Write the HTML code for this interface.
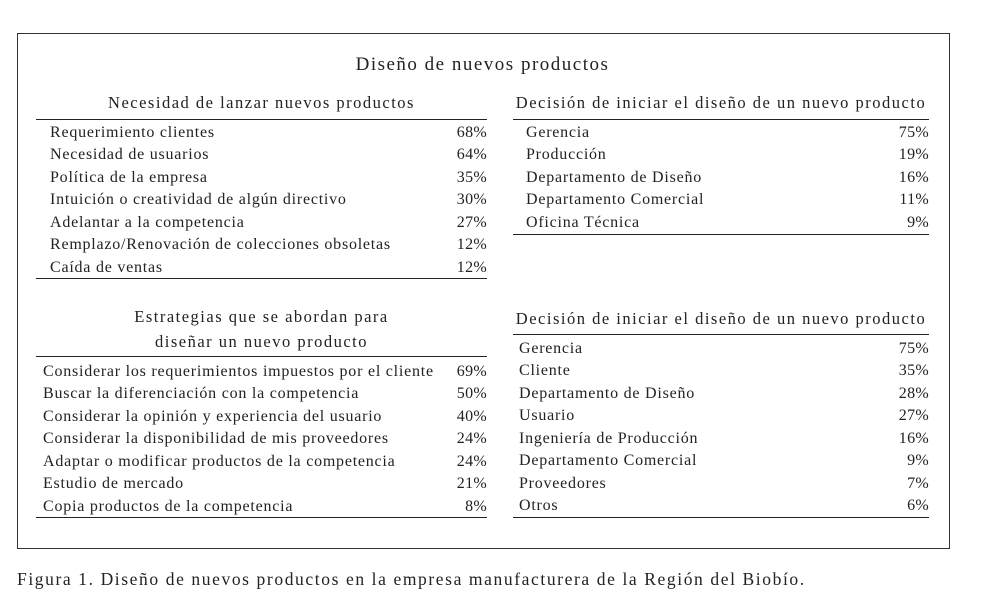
<!DOCTYPE html>
<html><head><meta charset="utf-8">
<style>
body{margin:0;width:984px;height:596px;background:#fff;position:relative;overflow:hidden;font-family:"Liberation Serif",serif;color:#222;}
.a{position:absolute;white-space:nowrap;}
.t{font-size:16px;line-height:18px;letter-spacing:0.77px;}
.ln{position:absolute;height:1px;background:#222;}
</style></head><body>
<div class="a" style="left:17px;top:33px;width:931px;height:514px;border:1px solid #333;"></div>
<div class="a" style="left:17px;width:931px;text-align:center;top:54px;font-size:19px;line-height:22px;letter-spacing:1.5px;">Diseño de nuevos productos</div>
<div id="root"></div>
<div class="a" style="left:17px;top:568px;font-size:17.5px;line-height:22px;letter-spacing:1.6px;">Figura 1. Diseño de nuevos productos en la empresa manufacturera de la Región del Biobío.</div>
<script>
const t1Labels=["Requerimiento clientes","Necesidad de usuarios","Política de la empresa","Intuición o creatividad de algún directivo","Adelantar a la competencia","Remplazo/Renovación de colecciones obsoletas","Caída de ventas"];
const t1Values=[68,64,35,30,27,12,12];
const t2Labels=["Gerencia","Producción","Departamento de Diseño","Departamento Comercial","Oficina Técnica"];
const t2Values=[75,19,16,11,9];
const t3Labels=["Considerar los requerimientos impuestos por el cliente","Buscar la diferenciación con la competencia","Considerar la opinión y experiencia del usuario","Considerar la disponibilidad de mis proveedores","Adaptar o modificar productos de la competencia","Estudio de mercado","Copia productos de la competencia"];
const t3Values=[69,50,40,24,24,21,8];
const t4Labels=["Gerencia","Cliente","Departamento de Diseño","Usuario","Ingeniería de Producción","Departamento Comercial","Proveedores","Otros"];
const t4Values=[75,35,28,27,16,9,7,6];
const root=document.getElementById('root');
function line(x,y,w,name){const d=document.createElement('div');d.className='ln';


d.style.left=x+'px';d.style.top=y+'px';d.style.width=w+'px';root.appendChild(d);}
function txt(x,y,s,name,extra){const d=document.createElement('div');d.className='a t';


d.style.left=x+'px';d.style.top=(y-8)+'px';d.textContent=s;if(extra)Object.assign(d.style,extra);root.appendChild(d);return d;}
function table(key,x0,x1,textX,titles,titleYs,topLine,firstRow,labels,values,bottomLine){
  titles.forEach((s,i)=>txt(x0,titleYs[i],s,key+'-title',{width:(x1-x0)+'px',textAlign:'center',fontSize:'16.5px',letterSpacing:'1.5px'}));
  line(x0,topLine,x1-x0,key+'-top-rule');
  labels.forEach((l,i)=>{const y=firstRow+i*22.43;
    txt(textX,y,l,key+'-row-label');
    txt(x1-60,y,values[i]+'%',key+'-row-value',{width:'60px',textAlign:'right',letterSpacing:'0.3px'});});
  line(x0,bottomLine,x1-x0,key+'-bottom-rule');
}
table('necesidad-table',36,487,50,["Necesidad de lanzar nuevos productos"],[102],119,132,t1Labels,t1Values,278);
table('decision-table-1',513,929,526,["Decisión de iniciar el diseño de un nuevo producto"],[102],119,132,t2Labels,t2Values,234);
table('estrategias-table',36,487,43,["Estrategias que se abordan para","diseñar un nuevo producto"],[316,341],356,371,t3Labels,t3Values,517);
table('decision-table-2',513,929,519,["Decisión de iniciar el diseño de un nuevo producto"],[318],334,348,t4Labels,t4Values,517);
</script>
</body></html>
